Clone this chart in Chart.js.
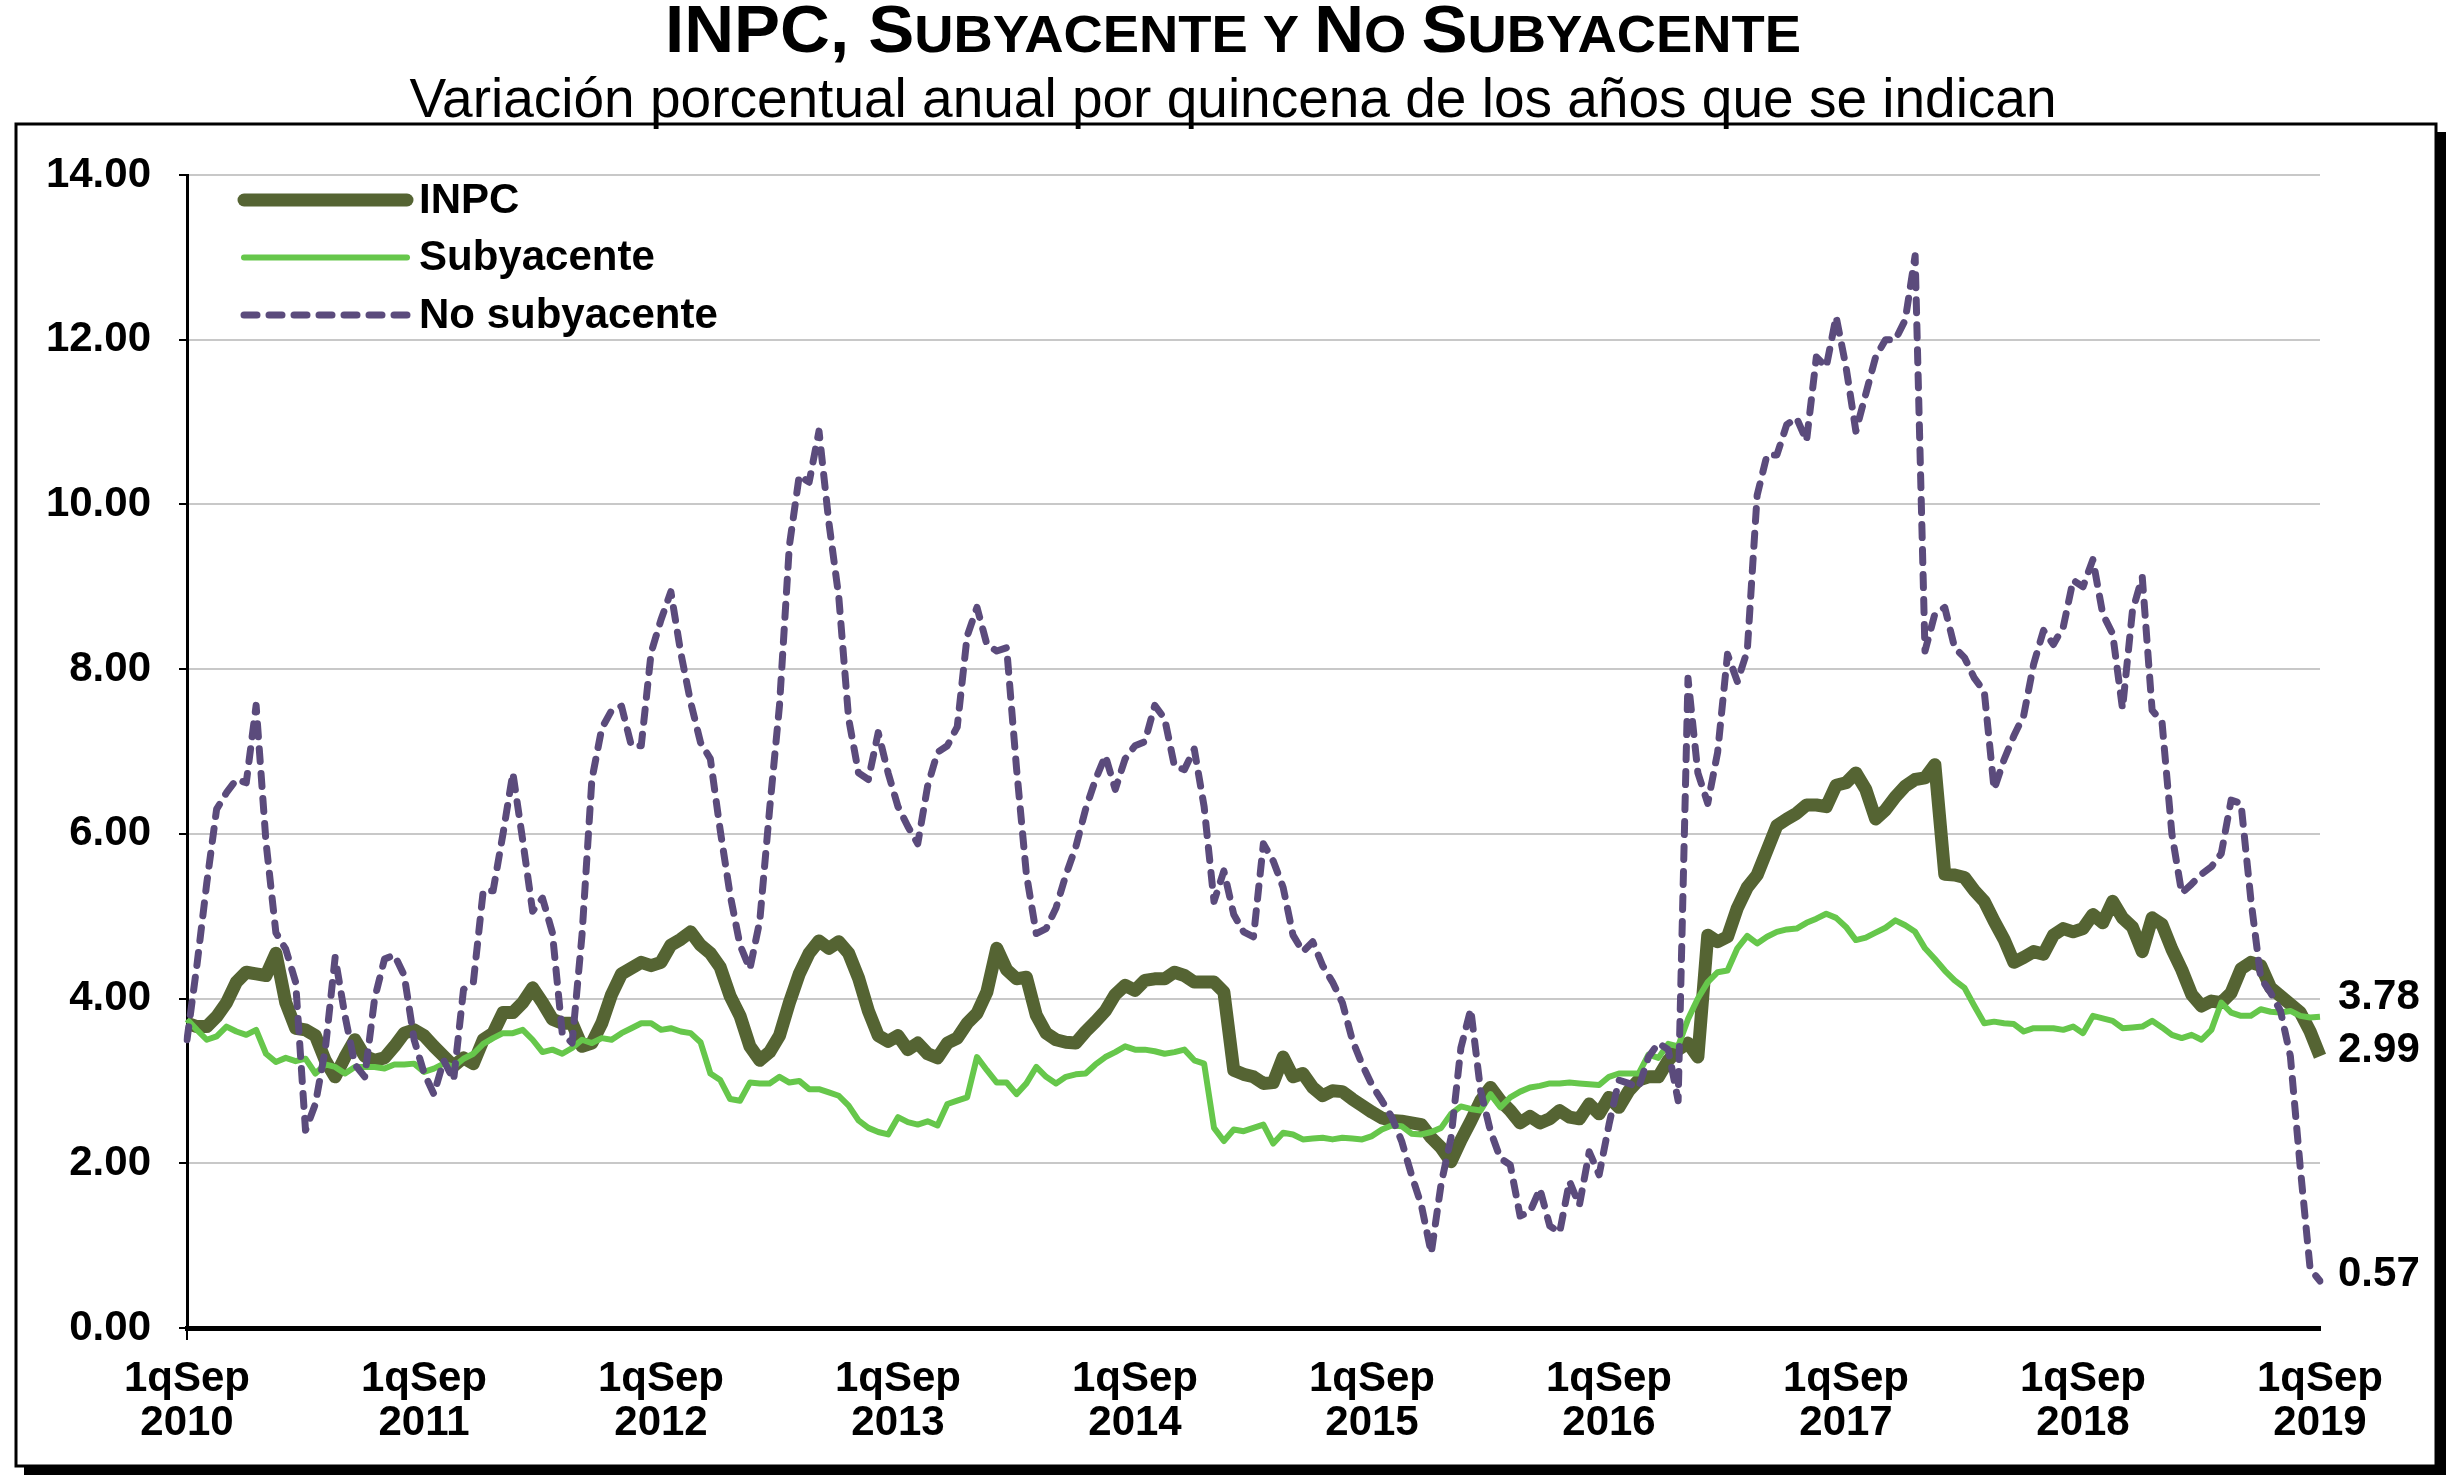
<!DOCTYPE html>
<html>
<head>
<meta charset="utf-8">
<title>INPC, Subyacente y No Subyacente</title>
<script src="https://cdn.jsdelivr.net/npm/chart.js@4.4.1/dist/chart.umd.min.js"></script>
<style>
  html, body { margin: 0; padding: 0; background: #fff; }
</style>
</head>
<body>
<canvas id="inflationChart" width="2446" height="1476"></canvas>
<script>
// Variacion anual por quincena, 1qSep 2010 - 1qSep 2019 (one row = one year)
const inpc = [
  3.70, 3.66, 3.66, 3.78, 3.95, 4.20, 4.32, 4.30, 4.28, 4.55, 3.95, 3.64, 3.62, 3.55, 3.25, 3.05, 3.29, 3.50, 3.30, 3.25, 3.28, 3.42, 3.58, 3.62,
  3.55, 3.42, 3.30, 3.18, 3.28, 3.21, 3.50, 3.58, 3.83, 3.83, 3.95, 4.13, 3.95, 3.75, 3.70, 3.70, 3.42, 3.46, 3.70, 4.05, 4.30, 4.37, 4.44, 4.40,
  4.44, 4.65, 4.72, 4.81, 4.65, 4.55, 4.38, 4.03, 3.79, 3.42, 3.25, 3.35, 3.55, 3.95, 4.30, 4.55, 4.70, 4.61, 4.69, 4.55, 4.25, 3.85, 3.55, 3.48,
  3.55, 3.38, 3.46, 3.33, 3.28, 3.46, 3.52, 3.70, 3.82, 4.08, 4.61, 4.35, 4.24, 4.26, 3.80, 3.58, 3.50, 3.47, 3.46, 3.60, 3.72, 3.85, 4.05, 4.16,
  4.10, 4.22, 4.24, 4.24, 4.32, 4.28, 4.20, 4.20, 4.20, 4.08, 3.13, 3.08, 3.05, 2.97, 2.98, 3.29, 3.05, 3.09, 2.92, 2.82, 2.88, 2.87, 2.78, 2.70,
  2.62, 2.55, 2.52, 2.51, 2.49, 2.47, 2.31, 2.19, 2.02, 2.28, 2.51, 2.76, 2.92, 2.76, 2.64, 2.49, 2.57, 2.49, 2.54, 2.64, 2.56, 2.54, 2.72, 2.60,
  2.80, 2.68, 2.88, 3.01, 3.05, 3.05, 3.25, 3.38, 3.46, 3.29, 4.77, 4.69, 4.75, 5.10, 5.35, 5.50, 5.80, 6.10, 6.18, 6.25, 6.35, 6.35, 6.33, 6.59,
  6.62, 6.74, 6.54, 6.18, 6.29, 6.45, 6.58, 6.66, 6.68, 6.84, 5.51, 5.50, 5.47, 5.31, 5.18, 4.94, 4.72, 4.44, 4.50, 4.57, 4.54, 4.77, 4.85, 4.81,
  4.85, 5.02, 4.92, 5.18, 4.98, 4.87, 4.57, 4.98, 4.90, 4.60, 4.35, 4.05, 3.91, 3.97, 3.95, 4.07, 4.36, 4.44, 4.40, 4.13, 4.03, 3.93, 3.83, 3.60,
  3.30
];

const subyacente = [
  3.75, 3.62, 3.50, 3.54, 3.66, 3.60, 3.56, 3.62, 3.33, 3.23, 3.28, 3.24, 3.27, 3.09, 3.20, 3.17, 3.09, 3.17, 3.17, 3.17, 3.15, 3.20, 3.20, 3.21,
  3.11, 3.15, 3.21, 3.17, 3.27, 3.33, 3.45, 3.52, 3.58, 3.58, 3.62, 3.50, 3.35, 3.38, 3.33, 3.40, 3.50, 3.46, 3.52, 3.50, 3.58, 3.64, 3.70, 3.70,
  3.62, 3.64, 3.60, 3.58, 3.47, 3.09, 3.01, 2.78, 2.76, 2.98, 2.97, 2.97, 3.05, 2.98, 3.00, 2.90, 2.90, 2.86, 2.82, 2.70, 2.52, 2.43, 2.38, 2.35,
  2.56, 2.50, 2.47, 2.51, 2.46, 2.72, 2.76, 2.80, 3.29, 3.13, 2.98, 2.98, 2.84, 2.97, 3.17, 3.05, 2.97, 3.05, 3.08, 3.09, 3.20, 3.29, 3.35, 3.42,
  3.38, 3.38, 3.36, 3.33, 3.35, 3.38, 3.25, 3.21, 2.43, 2.27, 2.41, 2.39, 2.43, 2.47, 2.24, 2.37, 2.35, 2.29, 2.30, 2.31, 2.29, 2.31, 2.30, 2.29,
  2.33, 2.41, 2.46, 2.45, 2.36, 2.35, 2.38, 2.43, 2.60, 2.69, 2.66, 2.64, 2.84, 2.68, 2.80, 2.87, 2.92, 2.94, 2.97, 2.97, 2.98, 2.97, 2.96, 2.95,
  3.05, 3.09, 3.09, 3.09, 3.32, 3.28, 3.45, 3.42, 3.75, 4.00, 4.20, 4.32, 4.34, 4.61, 4.76, 4.67, 4.75, 4.81, 4.84, 4.85, 4.92, 4.97, 5.03, 4.98,
  4.87, 4.71, 4.74, 4.80, 4.86, 4.95, 4.89, 4.81, 4.61, 4.48, 4.34, 4.22, 4.13, 3.91, 3.70, 3.72, 3.70, 3.69, 3.60, 3.64, 3.64, 3.64, 3.62, 3.66,
  3.58, 3.79, 3.76, 3.73, 3.64, 3.65, 3.66, 3.73, 3.65, 3.56, 3.52, 3.56, 3.50, 3.62, 3.95, 3.83, 3.79, 3.79, 3.87, 3.84, 3.83, 3.85, 3.79, 3.77,
  3.78
];

const noSubyacente = [
  3.50, 4.40, 5.40, 6.30, 6.50, 6.66, 6.62, 7.56, 5.90, 4.80, 4.60, 4.20, 2.40, 2.72, 3.38, 4.50, 3.79, 3.20, 3.05, 4.00, 4.48, 4.53, 4.28, 3.50,
  3.10, 2.84, 3.25, 3.01, 4.11, 4.20, 5.31, 5.31, 6.00, 6.74, 5.92, 5.06, 5.22, 4.80, 3.58, 3.46, 4.77, 6.66, 7.28, 7.50, 7.55, 7.07, 7.07, 8.20,
  8.60, 8.94, 8.20, 7.60, 7.11, 6.91, 6.04, 5.26, 4.65, 4.36, 4.94, 6.30, 7.56, 9.50, 10.35, 10.27, 10.89, 9.78, 8.88, 7.40, 6.74, 6.66, 7.23, 6.74,
  6.33, 6.09, 5.88, 6.58, 6.99, 7.07, 7.30, 8.40, 8.75, 8.30, 8.22, 8.26, 6.80, 5.51, 4.79, 4.85, 5.10, 5.50, 5.84, 6.30, 6.66, 6.95, 6.54, 6.91,
  7.07, 7.12, 7.56, 7.40, 6.82, 6.78, 7.03, 6.33, 5.18, 5.55, 5.02, 4.81, 4.75, 5.88, 5.67, 5.35, 4.77, 4.57, 4.69, 4.40, 4.20, 3.95, 3.50, 3.20,
  2.95, 2.76, 2.56, 2.27, 1.86, 1.49, 0.91, 1.75, 2.31, 3.40, 3.87, 2.88, 2.39, 2.06, 1.98, 1.36, 1.41, 1.69, 1.24, 1.16, 1.78, 1.49, 2.14, 1.86,
  2.47, 3.01, 2.97, 2.92, 3.29, 3.46, 3.38, 2.76, 7.89, 6.74, 6.37, 6.99, 8.18, 7.85, 8.22, 10.11, 10.60, 10.60, 10.97, 11.05, 10.77, 11.79, 11.67, 12.28,
  11.67, 10.89, 11.34, 11.79, 12.00, 12.00, 12.24, 13.02, 8.22, 8.67, 8.75, 8.26, 8.14, 7.89, 7.73, 6.54, 6.90, 7.19, 7.44, 8.06, 8.47, 8.30, 8.51, 9.08,
  9.00, 9.33, 8.67, 8.43, 7.52, 8.70, 9.12, 7.50, 7.36, 6.00, 5.28, 5.39, 5.51, 5.60, 5.76, 6.41, 6.37, 5.20, 4.25, 4.07, 3.85, 3.30, 1.95, 0.72,
  0.57
];

const seriesNames = ['INPC', 'Subyacente', 'No subyacente'];
const endLabels = ['2.99', '3.78', '0.57'];
const monthNames = ['Ene', 'Feb', 'Mar', 'Abr', 'May', 'Jun', 'Jul', 'Ago', 'Sep', 'Oct', 'Nov', 'Dic'];
const tickYears = ['2010', '2011', '2012', '2013', '2014', '2015', '2016', '2017', '2018', '2019'];
const tickPrefix = '1qSep';

// quincena labels starting at 1qSep 2010
let labels = [];
for (let i = 0; i < inpc.length; i++) {
    const k = 8 + Math.floor(i / 2);
    labels.push((i % 2 === 0 ? '1q' : '2q') + monthNames[k % 12] + ' ' + (2010 + Math.floor(k / 12)));
}

const FONT = "'Liberation Sans', Arial, sans-serif";

const framePlugin = {
    id: 'frame',
    beforeDraw(chart) {
        const ctx = chart.ctx;
        ctx.save();
        ctx.fillStyle = '#fff';
        ctx.fillRect(0, 0, chart.width, chart.height);
        ctx.restore();
    },
    afterDraw(chart) {
        const ctx = chart.ctx;
        ctx.save();
        ctx.strokeStyle = '#000';
        ctx.lineWidth = 3;
        ctx.strokeRect(16, 124, 2420, 1342);
        ctx.fillStyle = '#000';
        ctx.fillRect(2437, 132, 9, 1342);   // shadow right
        ctx.fillRect(24, 1467, 2422, 8);    // shadow bottom
        ctx.restore();
    }
};

const titlePlugin = {
    id: 'smallCapsTitle',
    afterDraw(chart) {
        const ctx = chart.ctx;
        const parts = [
            ['INPC, S', true], ['UBYACENTE Y ', false], ['N', true],
            ['O ', false], ['S', true], ['UBYACENTE', false]
        ];
        const big = 'bold 66px ' + FONT, small = 'bold 52px ' + FONT;
        ctx.save();
        let total = 0;
        parts.forEach(p => { ctx.font = p[1] ? big : small; total += ctx.measureText(p[0]).width; });
        const sx = 1136 / total;
        ctx.translate(1233 - 1136 / 2, 52);
        ctx.scale(sx, 1);
        ctx.fillStyle = '#000';
        ctx.textBaseline = 'alphabetic';
        let x = 0;
        parts.forEach(p => {
            ctx.font = p[1] ? big : small;
            ctx.fillText(p[0], x, 0);
            x += ctx.measureText(p[0]).width;
        });
        ctx.restore();

        ctx.save();
        ctx.font = 'normal 55px ' + FONT;
        ctx.fillStyle = '#000';
        ctx.textAlign = 'center';
        ctx.fillText('Variación porcentual anual por quincena de los años que se indican', 1233, 117);
        ctx.restore();
    }
};

const legendPlugin = {
    id: 'seriesLegend',
    afterDraw(chart) {
        const ctx = chart.ctx;
        const a = chart.chartArea;
        ctx.save();
        chart.data.datasets.forEach((ds, i) => {
            const y = a.top + 25 + i * 57.5;
            ctx.strokeStyle = ds.borderColor;
            ctx.lineWidth = ds.borderWidth;
            ctx.lineCap = 'round';
            ctx.setLineDash(ds.borderDash || []);
            ctx.beginPath();
            ctx.moveTo(a.left + 57, y);
            ctx.lineTo(a.left + 220, y);
            ctx.stroke();
            ctx.setLineDash([]);
            ctx.fillStyle = '#000';
            ctx.font = 'bold 42px ' + FONT;
            ctx.textBaseline = 'middle';
            ctx.fillText(ds.label, a.left + 232, y + 1);
        });
        ctx.restore();
    }
};

const endLabelPlugin = {
    id: 'endLabels',
    afterDatasetsDraw(chart) {
        const ctx = chart.ctx;
        const offsets = [-6, -19, -7];
        ctx.save();
        ctx.font = 'bold 42px ' + FONT;
        ctx.fillStyle = '#000';
        ctx.textBaseline = 'middle';
        chart.data.datasets.forEach((ds, i) => {
            const pts = chart.getDatasetMeta(i).data;
            const last = pts[pts.length - 1];
            ctx.fillText(endLabels[i], chart.chartArea.right + 18, last.y + offsets[i]);
        });
        ctx.restore();
    }
};

new Chart(document.getElementById('inflationChart'), {
    type: 'line',
    data: {
        labels: labels,
        datasets: [{
            label: seriesNames[0],
            data: inpc,
            borderColor: '#556433',
            borderWidth: 13,
            order: 3
        }, {
            label: seriesNames[1],
            data: subyacente,
            borderColor: '#66c74b',
            borderWidth: 6,
            order: 2
        }, {
            label: seriesNames[2],
            data: noSubyacente,
            borderColor: '#5b4b7c',
            borderWidth: 7,
            borderDash: [13, 12],
            borderCapStyle: 'round',
            order: 1
        }]
    },
    options: {
        responsive: false,
        animation: false,
        devicePixelRatio: 1,
        elements: {
            point: { radius: 0, hoverRadius: 0 },
            line: { tension: 0, borderJoinStyle: 'round', fill: false }
        },
        layout: {
            padding: { top: 175, right: 126, left: 0, bottom: 0 }
        },
        scales: {
            x: {
                offset: false,
                afterFit: (scale) => { scale.height = 148; },
                border: { color: '#000', width: 5 },
                grid: {
                    drawOnChartArea: false,
                    drawTicks: true,
                    tickLength: 12,
                    lineWidth: 2,
                    color: (c) => c.index % 24 === 0 ? '#000' : 'rgba(0,0,0,0)',
                    tickColor: (c) => c.index % 24 === 0 ? '#000' : 'rgba(0,0,0,0)'
                },
                ticks: {
                    autoSkip: false,
                    maxRotation: 0,
                    minRotation: 0,
                    padding: 17,
                    color: '#000',
                    font: { family: FONT, size: 42, weight: 'bold', lineHeight: 1.05 },
                    callback: (val, idx) => idx % 24 === 0 ? [tickPrefix, tickYears[idx / 24]] : null
                }
            },
            y: {
                min: 0,
                max: 14,
                afterFit: (scale) => { scale.width = 187; },
                border: { color: '#000', width: 3 },
                grid: {
                    color: '#c8c8c8',
                    lineWidth: 2,
                    drawTicks: true,
                    tickLength: 8,
                    tickColor: '#000'
                },
                ticks: {
                    stepSize: 2,
                    padding: 28,
                    color: '#000',
                    font: { family: FONT, size: 42, weight: 'bold' },
                    callback: (v) => v.toFixed(2)
                }
            }
        },
        plugins: {
            legend: { display: false },
            title: { display: false },
            tooltip: { enabled: false }
        }
    },
    plugins: [framePlugin, titlePlugin, legendPlugin, endLabelPlugin]
});
</script>
</body>
</html>
